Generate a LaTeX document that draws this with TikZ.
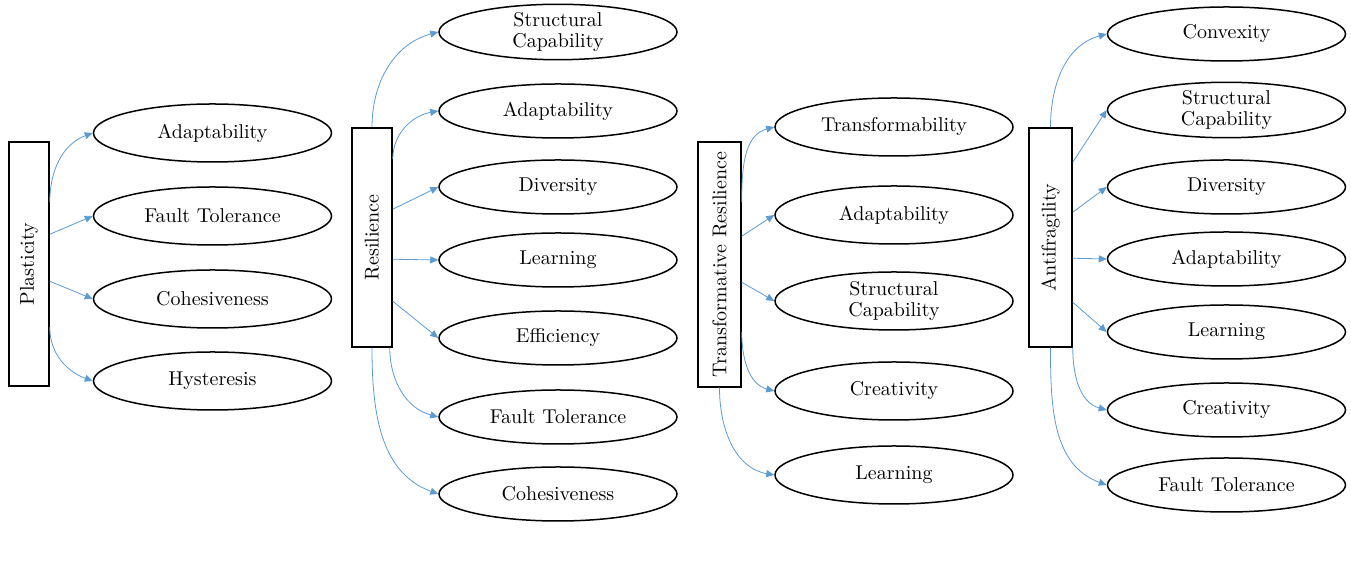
\documentclass[tikz,border=0pt]{standalone}
\usetikzlibrary{shapes.geometric,arrows.meta,calc}
\definecolor{linkblue}{RGB}{91,155,213}
\begin{document}
\begin{tikzpicture}[x=0.5pt,y=-0.5pt,
  every node/.style={font=\fontsize{10}{10.5}\selectfont},
  pillar/.style={draw,line width=0.75pt,inner sep=0pt},
  trait/.style={draw,ellipse,line width=0.75pt,inner sep=0pt,minimum width=119pt,align=center},
  link/.style={draw=linkblue,line width=0.4pt,-{Triangle[length=4pt,width=3.5pt]}}]
\useasboundingbox (0,0) rectangle (1351,581);

% ---------------- Plasticity ----------------
\node[pillar,minimum width=20pt,minimum height=122pt] (P) at (29,264) {\rotatebox{90}{Plasticity}};
\node[trait,minimum height=29pt] (p1) at (212.5,133) {Adaptability};
\node[trait,minimum height=29pt] (p2) at (212.5,216) {Fault Tolerance};
\node[trait,minimum height=29pt] (p3) at (212.5,299) {Cohesiveness};
\node[trait,minimum height=29pt] (p4) at (212.5,381) {Hysteresis};
\draw[link] ($(P.north east)+(0,61)$) to[out=90,in=200] (p1.west);
\draw[link] ($(P.north east)+(0,93)$) -- (p2.west);
\draw[link] ($(P.north east)+(0,140)$) -- (p3.west);
\draw[link] ($(P.north east)+(0,186)$) to[out=-90,in=160] (p4.west);

% ---------------- Resilience ----------------
\node[pillar,minimum width=20pt,minimum height=109.5pt] (R) at (372,237.5) {\rotatebox{90}{Resilience}};
\node[trait,minimum height=27pt] (r1) at (558,32) {Structural\\Capability};
\node[trait,minimum height=27pt] (r2) at (558,111) {Adaptability};
\node[trait,minimum height=27pt] (r3) at (558,187) {Diversity};
\node[trait,minimum height=27pt] (r4) at (558,260) {Learning};
\node[trait,minimum height=27pt] (r5) at (558,338) {Efficiency};
\node[trait,minimum height=27pt] (r6) at (558,417) {Fault Tolerance};
\node[trait,minimum height=27pt] (r7) at (558,494) {Cohesiveness};
\draw[link] (R.north) to[out=90,in=195] (r1.west);
\draw[link] ($(R.north east)+(0,32)$) to[out=90,in=190] (r2.west);
\draw[link] ($(R.north east)+(0,82)$) -- (r3.west);
\draw[link] ($(R.north east)+(0,132)$) -- (r4.west);
\draw[link] ($(R.north east)+(0,174)$) -- (r5.west);
\draw[link] ($(R.south east)+(-3,0)$) to[out=-90,in=165] (r6.west);
\draw[link] (R.south) to[out=-90,in=160] (r7.west);

% ---------------- Transformative Resilience ----------------
\node[pillar,minimum width=21.5pt,minimum height=122.5pt] (T) at (719.5,264.5) {\rotatebox{90}{Transformative Resilience}};
\node[trait,minimum height=29pt] (t1) at (894,127) {Transformability};
\node[trait,minimum height=29pt] (t2) at (894,215) {Adaptability};
\node[trait,minimum height=29pt] (t3) at (894,301) {Structural\\Capability};
\node[trait,minimum height=29pt] (t4) at (894,391) {Creativity};
\node[trait,minimum height=29pt] (t5) at (894,475) {Learning};
\draw[link] ($(T.north east)+(0,61)$) to[out=90,in=195] (t1.west);
\draw[link] ($(T.north east)+(0,95)$) -- (t2.west);
\draw[link] ($(T.north east)+(0,141)$) -- (t3.west);
\draw[link] ($(T.north east)+(0,191)$) to[out=-90,in=165] (t4.west);
\draw[link] (T.south) to[out=-90,in=170] (t5.west);

% ---------------- Antifragility ----------------
\node[pillar,minimum width=21.5pt,minimum height=109.5pt] (A) at (1050.5,237.5) {\rotatebox{90}{Antifragility}};
\node[trait,minimum height=27pt] (a1) at (1226.5,34) {Convexity};
\node[trait,minimum height=27pt] (a2) at (1226.5,110) {Structural\\Capability};
\node[trait,minimum height=27pt] (a3) at (1226.5,187) {Diversity};
\node[trait,minimum height=27pt] (a4) at (1226.5,259) {Adaptability};
\node[trait,minimum height=27pt] (a5) at (1226.5,332) {Learning};
\node[trait,minimum height=27pt] (a6) at (1226.5,410) {Creativity};
\node[trait,minimum height=27pt] (a7) at (1226.5,485) {Fault Tolerance};
\draw[link] (A.north) to[out=90,in=195] (a1.west);
\draw[link] ($(A.north east)+(0,35)$) -- (a2.west);
\draw[link] ($(A.north east)+(0,85)$) -- (a3.west);
\draw[link] ($(A.north east)+(0,131)$) -- (a4.west);
\draw[link] ($(A.north east)+(0,175)$) -- (a5.west);
\draw[link] (A.south east) to[out=-90,in=165] (a6.west);
\draw[link] (A.south) to[out=-90,in=160] (a7.west);
\end{tikzpicture}
\end{document}
